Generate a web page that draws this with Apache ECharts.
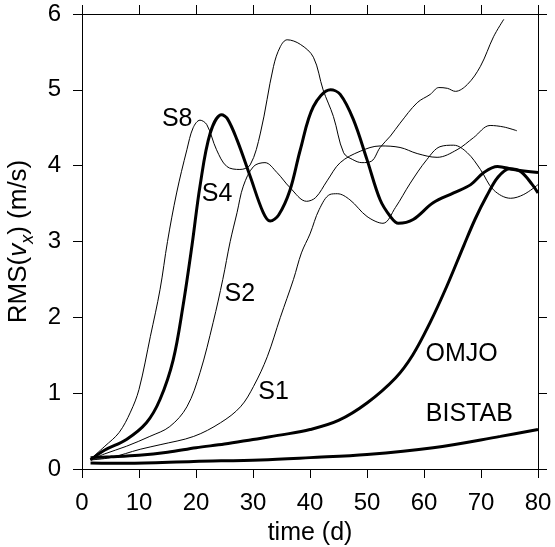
<!DOCTYPE html>
<html>
<head>
<meta charset="utf-8">
<script src="https://cdn.jsdelivr.net/npm/echarts@6/dist/echarts.min.js"></script>
<style>
html,body{margin:0;padding:0;background:#fff;}
#c{width:555px;height:547px;}
</style>
</head>
<body>
<div id="c"></div>
<script>
// ---- data ----
var xTicks = [0, 10, 20, 30, 40, 50, 60, 70, 80];
var yTicks = [0, 1, 2, 3, 4, 5, 6];

var s8X = [1.5, 4, 6.5, 8.5, 10, 12, 13.7, 15, 16.6, 18.4, 19.5, 20.7, 21.9, 23.6, 25.4, 27.7, 29.5, 31.3, 33.6, 34.8, 36, 38.3, 40.6, 42.3, 44.1, 45.9, 47.5, 49.1, 50.8, 52.3, 54.1, 55.8, 58.8, 61.1, 62.6, 64.1, 65.5, 67.6, 69.9, 72.2, 74];
var s8Y = [0.13, 0.3, 0.48, 0.75, 1.05, 1.75, 2.37, 3.0, 3.64, 4.21, 4.5, 4.6, 4.54, 4.21, 3.99, 3.95, 4.01, 4.43, 5.31, 5.57, 5.66, 5.6, 5.43, 5.0, 4.65, 4.17, 4.08, 4.04, 4.06, 4.24, 4.39, 4.56, 4.83, 4.94, 5.03, 5.02, 4.98, 5.07, 5.31, 5.7, 5.93];

var s4X = [1.5, 4, 7.8, 11.3, 13.7, 16, 17.7, 19.3, 20.7, 22.5, 24.5, 25.5, 27.2, 29.5, 31.8, 33, 34.5, 36.5, 38.3, 40.6, 43.6, 45.3, 47.6, 50, 52.3, 54.1, 55.5, 58.1, 61.6, 65.2, 68.2, 70.5, 72.9, 75.7, 80];
var s4Y = [0.12, 0.25, 0.39, 0.61, 0.92, 1.44, 2.14, 2.95, 3.73, 4.43, 4.67, 4.62, 4.34, 3.86, 3.38, 3.27, 3.35, 3.68, 4.21, 4.78, 5.0, 4.94, 4.61, 4.08, 3.55, 3.33, 3.24, 3.29, 3.51, 3.64, 3.75, 3.91, 3.99, 3.95, 3.91];

var s2X = [1.5, 4, 7.8, 11.9, 15.4, 18.4, 20.7, 23, 24.7, 26, 27.2, 28.3, 30.1, 32.1, 34.2, 36.5, 39.4, 41, 43, 45.3, 48.8, 52.3, 55.8, 58.8, 62.3, 65.8, 68.7, 71.6, 74, 76.3];
var s2Y = [0.12, 0.2, 0.3, 0.43, 0.56, 0.82, 1.27, 1.93, 2.5, 3.0, 3.38, 3.73, 3.99, 4.04, 3.91, 3.71, 3.53, 3.58, 3.8, 4.04, 4.19, 4.26, 4.24, 4.16, 4.11, 4.21, 4.37, 4.53, 4.51, 4.46];

var s1X = [1.5, 5, 10.2, 13.7, 19.6, 24.3, 27.8, 30.1, 32.5, 34.8, 37.1, 38.5, 40, 41.6, 43.5, 44.8, 47, 50, 52.8, 55, 57.6, 60.5, 62.8, 65.2, 67.6, 69.9, 72.2, 75.2, 77.5, 80];
var s1Y = [0.12, 0.15, 0.26, 0.32, 0.43, 0.61, 0.82, 1.09, 1.48, 2.0, 2.5, 2.85, 3.1, 3.42, 3.62, 3.63, 3.55, 3.33, 3.24, 3.45, 3.77, 4.08, 4.25, 4.27, 4.17, 3.95, 3.68, 3.57, 3.62, 3.75];

var omjoX = [1.5, 5, 10, 15, 20, 25, 30, 35, 40, 45, 50, 55, 58, 61, 64, 67, 69, 71, 73, 75, 77, 79, 80];
var omjoY = [0.15, 0.16, 0.18, 0.22, 0.28, 0.33, 0.39, 0.45, 0.52, 0.64, 0.87, 1.2, 1.5, 1.92, 2.41, 2.95, 3.3, 3.6, 3.85, 3.96, 3.92, 3.75, 3.64];

var bistabX = [1.5, 7.8, 19.6, 31.3, 40, 50, 61.6, 73.4, 80];
var bistabY = [0.08, 0.075, 0.1, 0.12, 0.15, 0.19, 0.28, 0.43, 0.52];

var labelNames = ['S8', 'S4', 'S2', 'S1', 'OMJO', 'BISTAB'];
var labelX = [16.7, 23.7, 27.7, 33.6, 66.6, 67.95];
var labelY = [4.62, 3.62, 2.31, 1.01, 1.51, 0.73];

// ---- build ----
function pairs(xs, ys) { return xs.map(function (x, i) { return [x, ys[i]]; }); }
var FONT = '"Liberation Sans", Arial, Helvetica, sans-serif';

function lineSeries(name, xs, ys, w) {
  return {
    name: name, type: 'line', data: pairs(xs, ys), xAxisIndex: 0, yAxisIndex: 0,
    showSymbol: false, symbol: 'none', smooth: 0.35,
    lineStyle: { color: '#000', width: w }, itemStyle: { color: '#000' }, z: 3
  };
}

var chart = echarts.init(document.getElementById('c'), null, { renderer: 'canvas' });

var axisCommon = {
  axisLine: { show: true, onZero: false, lineStyle: { color: '#000', width: 1 } },
  axisTick: { show: true, inside: false, length: 9, lineStyle: { color: '#000', width: 1 } },
  splitLine: { show: false }
};

var option = {
  animation: false,
  backgroundColor: '#fff',
  grid: { left: 82, right: 17, top: 14, bottom: 78, outerBoundsMode: 'none', containLabel: false },
  xAxis: [
    Object.assign({}, axisCommon, {
      type: 'value', min: xTicks[0], max: xTicks[xTicks.length - 1], interval: 10, position: 'bottom',
      axisLabel: { show: true, margin: 22, color: '#000', fontSize: 24, fontFamily: FONT, showMinLabel: true, showMaxLabel: true },
      name: 'time (d)', nameLocation: 'middle', nameGap: 52,
      nameTextStyle: { color: '#000', fontSize: 25, fontFamily: FONT }
    }),
    Object.assign({}, axisCommon, {
      type: 'value', min: xTicks[0], max: xTicks[xTicks.length - 1], interval: 10, position: 'top',
      axisLabel: { show: false }
    })
  ],
  yAxis: [
    Object.assign({}, axisCommon, {
      type: 'value', min: yTicks[0], max: yTicks[yTicks.length - 1], interval: 1, position: 'left',
      axisLabel: { show: true, margin: 21, color: '#000', fontSize: 24, fontFamily: FONT, showMinLabel: true, showMaxLabel: true },
      name: '{a|RMS(}{i|v}{s|x}{a|) (m/s)}', nameLocation: 'middle', nameGap: 46, nameRotate: 90,
      nameTextStyle: {
        color: '#000', fontSize: 26, fontFamily: FONT,
        rich: {
          a: { fontSize: 26, fontFamily: FONT, color: '#000', lineHeight: 30, verticalAlign: 'bottom' },
          i: { fontSize: 26, fontFamily: FONT, fontStyle: 'italic', color: '#000', lineHeight: 30, verticalAlign: 'bottom' },
          s: { fontSize: 18, fontFamily: FONT, fontStyle: 'italic', color: '#000', lineHeight: 20, verticalAlign: 'bottom', padding: [0, 0, -5, 0] }
        }
      }
    }),
    Object.assign({}, axisCommon, {
      type: 'value', min: yTicks[0], max: yTicks[yTicks.length - 1], interval: 1, position: 'right',
      axisLabel: { show: false }
    })
  ],
  series: [
    lineSeries('BISTAB', bistabX, bistabY, 3),
    lineSeries('OMJO', omjoX, omjoY, 3),
    lineSeries('S1', s1X, s1Y, 1),
    lineSeries('S2', s2X, s2Y, 1),
    lineSeries('S4', s4X, s4Y, 3),
    lineSeries('S8', s8X, s8Y, 1),
    {
      name: 'labels', type: 'scatter', symbolSize: 0, z: 5,
      itemStyle: { color: '#000', opacity: 0 },
      data: labelNames.map(function (n, i) { return { value: [labelX[i], labelY[i]], name: n }; }),
      label: {
        show: true, position: 'inside', formatter: function (p) { return p.name; },
        color: '#000', opacity: 1, fontSize: 25, fontFamily: FONT,
        textBorderWidth: 0, textBorderColor: 'transparent', textShadowBlur: 0
      },
      silent: true
    }
  ]
};
chart.setOption(option);

// extend frame lines across the corners like the reference (tick-length overhang)
var p00 = chart.convertToPixel({ gridIndex: 0 }, [xTicks[0], yTicks[0]]);
var p11 = chart.convertToPixel({ gridIndex: 0 }, [xTicks[xTicks.length - 1], yTicks[yTicks.length - 1]]);
var L = 9;
var ls = { stroke: '#000', lineWidth: 1 };
function seg(x1, y1, x2, y2) {
  return { type: 'line', shape: { x1: x1, y1: y1, x2: x2, y2: y2 }, style: ls, silent: true, z: 10 };
}
chart.setOption({
  graphic: [
    seg(p00[0] - L, Math.round(p00[1]) + 0.5, p11[0] + L, Math.round(p00[1]) + 0.5),
    seg(p00[0] - L, Math.round(p11[1]) + 0.5, p11[0] + L, Math.round(p11[1]) + 0.5),
    seg(Math.round(p00[0]) + 0.5, p11[1] - L, Math.round(p00[0]) + 0.5, p00[1] + L),
    seg(Math.round(p11[0]) + 0.5, p11[1] - L, Math.round(p11[0]) + 0.5, p00[1] + L)
  ]
});
</script>
</body>
</html>
